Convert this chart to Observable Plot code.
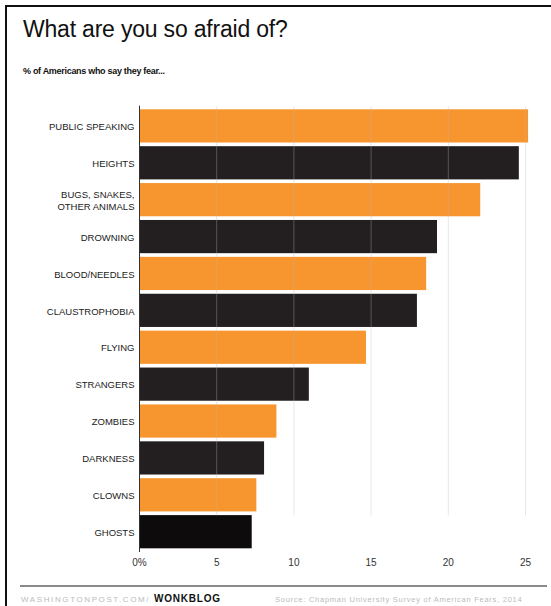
<!DOCTYPE html>
<html><head><meta charset="utf-8">
<script src="https://cdn.jsdelivr.net/npm/d3@7"></script>
<script src="https://cdn.jsdelivr.net/npm/@observablehq/plot@0.6"></script>
<style>
html,body{margin:0;padding:0;background:#fff;}
body{width:551px;height:606px;overflow:hidden;position:relative;font-family:"Liberation Sans",Arial,sans-serif;}
#frame{position:absolute;left:5px;top:5px;width:600px;height:700px;border-left:2px solid #111;border-top:2px solid #111;box-sizing:border-box;}
#title{position:absolute;left:23px;top:18px;font-size:23px;line-height:23px;color:#111;white-space:nowrap;letter-spacing:-0.2px;}
#subtitle{position:absolute;left:23px;top:67px;font-size:9px;line-height:9px;font-weight:bold;color:#111;white-space:nowrap;letter-spacing:-0.3px;}
#chart{position:absolute;left:0;top:0;}
#rule{position:absolute;left:20px;top:585px;width:527px;height:2px;background:#8a8a8a;}
#footer{position:absolute;left:21px;top:594px;font-size:8px;line-height:9px;color:#bbb;white-space:nowrap;letter-spacing:1.6px;}
#footer b{color:#111;font-weight:900;font-size:10px;letter-spacing:0.8px;}
#source{position:absolute;left:275px;top:595px;font-size:7.5px;line-height:9px;color:#bbb;white-space:nowrap;letter-spacing:0.75px;}
</style>
</head><body>
<div id="frame"></div>
<div id="title">What are you so afraid of?</div>
<div id="subtitle">% of Americans who say they fear...</div>
<div id="chart"></div>
<div id="rule"></div>
<div id="footer">WASHINGTONPOST.COM/ <b>WONKBLOG</b></div>
<div id="source">Source: Chapman University Survey of American Fears, 2014</div>
<script>
const categories = ["Public speaking","Heights","Bugs, snakes, other animals","Drowning","Blood/needles","Claustrophobia","Flying","Strangers","Zombies","Darkness","Clowns","Ghosts"];
const labels = ["PUBLIC SPEAKING","HEIGHTS","BUGS, SNAKES,\nOTHER ANIMALS","DROWNING","BLOOD/NEEDLES","CLAUSTROPHOBIA","FLYING","STRANGERS","ZOMBIES","DARKNESS","CLOWNS","GHOSTS"];
const values = [25.2, 24.6, 22.1, 19.3, 18.6, 18.0, 14.7, 11.0, 8.9, 8.1, 7.6, 7.3];
const xTicks = [0, 5, 10, 15, 20, 25];

const ORANGE = "#F7962F", DARK = "#231F20";
const data = categories.map((c, i) => ({category: c, label: labels[i], value: values[i], idx: i}));
const labelOf = new Map(categories.map((c, i) => [c, labels[i]]));

const chart = Plot.plot({
  width: 551,
  height: 575,
  marginLeft: 139,
  marginRight: 26,
  marginTop: 105.6,
  marginBottom: 23,
  style: {fontFamily: "'Liberation Sans', Arial, sans-serif", background: "transparent"},
  x: {domain: [0, 25], axis: null},
  y: {domain: categories, padding: 0.1, round: false, axis: null},
  marks: [
    Plot.barX(data, {x: "value", y: "category", fill: d => d.idx % 2 ? (d.idx === 11 ? "#0d0b0c" : DARK) : ORANGE}),
    Plot.ruleX(xTicks.slice(1), {y1: () => categories[0], y2: () => categories[10], insetTop: -3, insetBottom: -4, stroke: "#b8b8b8", strokeOpacity: 0.35}),
    Plot.ruleX([0], {stroke: "#333", strokeWidth: 1}),
    Plot.axisY({tickSize: 0, tickPadding: 5, fontSize: 9.5, lineHeight: 1.2, fill: "#1a1a1a", tickFormat: d => labelOf.get(d), label: null}),
    Plot.axisX(xTicks, {tickSize: 0, tickPadding: 6, fontSize: 10, fill: "#333", tickFormat: d => d === 0 ? "0%" : String(d), label: null})
  ]
});
document.getElementById("chart").appendChild(chart);
</script>
</body></html>
